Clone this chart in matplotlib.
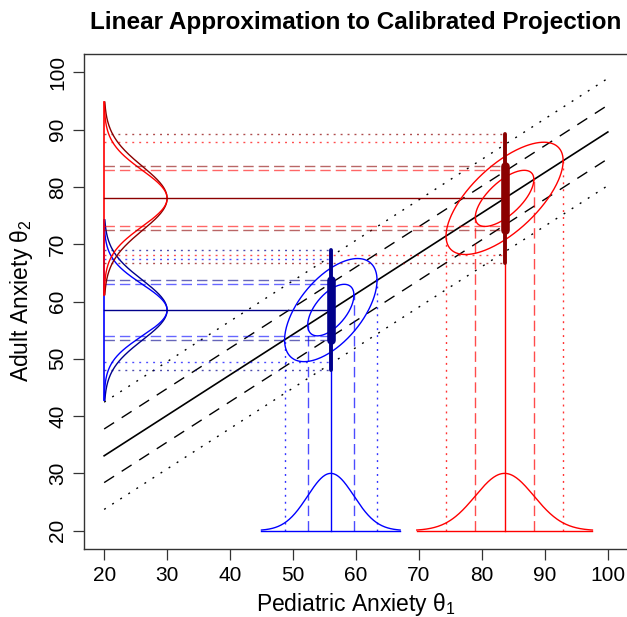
import numpy as np
import matplotlib
matplotlib.use("Agg")
import matplotlib.pyplot as plt

plt.rcParams['font.family'] = ['Liberation Sans', 'DejaVu Sans']
plt.rcParams['mathtext.fontset'] = 'custom'
plt.rcParams['mathtext.rm'] = 'Liberation Sans'
plt.rcParams['mathtext.default'] = 'regular'

# linking line (black) with +-1 sd (dashed) and +-2 sd (dotted) bands
link_x = [20, 100]
link_intercept = 18.94
link_slope = 0.7065
link_sd = 4.68

# two example people: (blue group, red group)
mean_x = [56.0, 83.6]
mean_y = [58.5, 78.0]
sd_x = [3.67, 4.65]
sd_y_cal = [4.5, 4.9]     # calibrated projection (light colour)
sd_y_lin = [5.25, 5.6]    # linear approximation (dark colour)
rho = [0.58, 0.67]
light_col = ['blue', 'red']
dark_col = ['darkblue', 'darkred']

base = 20      # where the marginal curves sit
height = 10    # peak height of the marginal curves
ticks = [20, 30, 40, 50, 60, 70, 80, 90, 100]

DASH = (7.5, 3.6)
DOT = (1.4, 3.6)

fig = plt.figure(figsize=(6.27, 6.17), dpi=100)
ax = fig.add_axes([84 / 627, 68 / 617, 544 / 627, 495 / 617])
ax.set_xlim(16.8, 103.2)
ax.set_ylim(16.8, 103.2)

# linking line and bands
lx = np.array(link_x, dtype=float)
ly = link_intercept + link_slope * lx
ax.plot(lx, ly, color='black', lw=1.2)
for k in (-1, 1):
    ax.plot(lx, ly + k * link_sd, color='black', lw=1.0, dashes=(8.5, 6.5))
    ax.plot(lx, ly + 2 * k * link_sd, color='black', lw=1.0, dashes=(1.4, 5.5))

for i in range(2):
    mx, my = mean_x[i], mean_y[i]
    sx, sc, sl, r = sd_x[i], sd_y_cal[i], sd_y_lin[i], rho[i]
    lc, dc = light_col[i], dark_col[i]

    # marginal curve along the x axis
    xs = np.linspace(mx - 3 * sx, mx + 3 * sx, 200)
    ax.plot(xs, base + height * np.exp(-0.5 * ((xs - mx) / sx) ** 2), color=lc, lw=1.0)
    ax.plot([xs[0], xs[-1]], [base, base], color=lc, lw=1.0)

    # marginal curves along the y axis (both over the wider range)
    ys = np.linspace(my - 3 * sl, my + 3 * sl, 200)
    ax.plot(base + height * np.exp(-0.5 * ((ys - my) / sl) ** 2), ys, color=dc, lw=1.0)
    ax.plot(base + height * np.exp(-0.5 * ((ys - my) / sc) ** 2), ys, color=lc, lw=1.0)
    ax.plot([base, base], [ys[0], ys[-1]], color=lc, lw=1.2)

    # horizontal guides out to the person
    for sd, c in ((sc, lc), (sl, dc)):
        for k in (-1, 1):
            ax.plot([20, mx], [my + k * sd] * 2, color=c, lw=1.0, alpha=0.6, dashes=DASH)
            ax.plot([20, mx], [my + 2 * k * sd] * 2, color=c, lw=1.0, alpha=0.7, dashes=DOT)
    ax.plot([20, mx], [my, my], color=dc, lw=1.0)

    # vertical guides up to the ellipse tangents
    for k in (-1, 1):
        ax.plot([mx + k * sx] * 2, [base, my + k * r * sc], color=lc, lw=1.0, alpha=0.7, dashes=DASH)
        ax.plot([mx + 2 * k * sx] * 2, [base, my + 2 * k * r * sc], color=lc, lw=1.0, alpha=0.8, dashes=DOT)
    ax.plot([mx, mx], [base, my], color=lc, lw=1.0)

    # 1 and 2 sd ellipses of the calibrated projection
    t = np.linspace(0, 2 * np.pi, 300)
    u, v = np.cos(t), np.sin(t)
    for s in (1, 2):
        ex = mx + s * sx * u
        ey = my + s * sc * (r * u + np.sqrt(1 - r ** 2) * v)
        ax.plot(ex, ey, color=lc, lw=1.0)

    # interval bars for the linear approximation
    ax.plot([mx, mx], [my - 2 * sl, my + 2 * sl], color=dc, lw=2.8, solid_capstyle='round')
    ax.plot([mx, mx], [my - sl, my + sl], color=dc, lw=6.2, solid_capstyle='round')

ax.set_xticks(ticks)
ax.set_yticks(ticks)
ax.tick_params(direction='out', length=8, width=0.9, labelsize=15, pad=4, colors='#333333',
               labelcolor='black')
for lab in ax.get_yticklabels():
    lab.set_rotation(90)
    lab.set_va('center')
ax.spines['right'].set_visible(False)
for s in ('left', 'bottom', 'top'):
    ax.spines[s].set_linewidth(1.0)
    ax.spines[s].set_color('#333333')

fig.text(356 / 627, 1 - 22 / 617, 'Linear Approximation to Calibrated Projection',
         ha='center', va='center', fontsize=17.5, fontweight='bold')
fig.text(356 / 627, 1 - 605 / 617, r'Pediatric Anxiety θ$_1$', ha='center', va='center', fontsize=16.5)
fig.text(22 / 627, 1 - 301 / 617, r'Adult Anxiety θ$_2$', ha='center', va='center', fontsize=16.5,
         rotation=90)

fig.savefig('out.png', dpi=100)
